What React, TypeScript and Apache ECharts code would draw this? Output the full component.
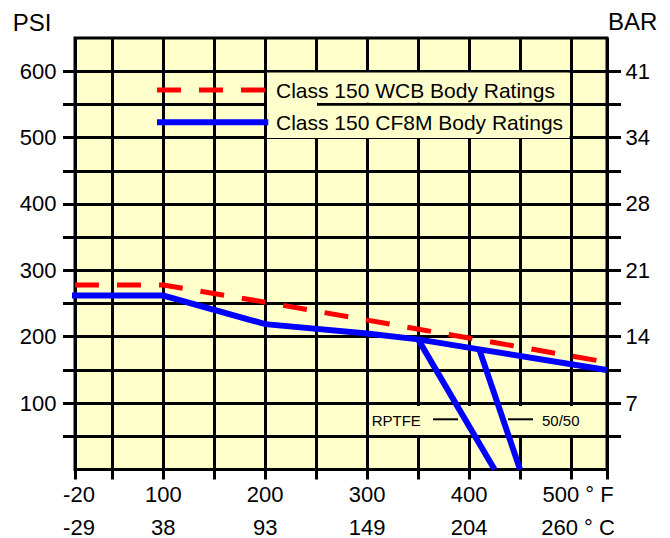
import React, { useEffect, useRef } from 'react';
import * as echarts from 'echarts';

// ---- axis extents / ticks ----
const X_MIN = 13.4; // left edge of the plot, labelled -20 °F (scale is compressed below 50 °F)
const X_MAX = 535.3; // right edge of the plot
const xGridValues = [X_MIN, 50, 100, 150, 200, 250, 300, 350, 400, 450, 500, X_MAX];
const xLabelValues = [X_MIN, 100, 200, 300, 400, 500];
const xLabelsF = ['-20', '100', '200', '300', '400', '500 ° F'];
const xLabelsC = ['-29', '38', '93', '149', '204', '260 ° C'];

const Y_MAX = 650;
const yGridValues = [50, 100, 150, 200, 250, 300, 350, 400, 450, 500, 550, 600];
const psiLabelValues = [100, 200, 300, 400, 500, 600];
const barLabels = ['7', '14', '21', '28', '34', '41'];

// ---- series data (°F, psi) ----
const wcbTemps = [-20, 100, 200, 300, 400, 500, 530];
const wcbPsi = [278, 278, 252, 225, 198, 171, 163];

const cf8mTemps = [-20, 100, 200, 300, 350, 410, 535];
const cf8mPsi = [262, 262, 219, 205, 196, 181, 150];

const rptfeTemps = [350, 425];
const rptfePsi = [196, 0];

const fiftyTemps = [410, 450];
const fiftyPsi = [181, 0];

const FONT = "'Liberation Sans', Arial, Helvetica, sans-serif";
const BG = '#FFFFCC';

const pairs = (xs: number[], ys: number[]) => xs.map((x, i) => [x, ys[i]]);

export default function App() {
  const ref = useRef<HTMLDivElement>(null);

  useEffect(() => {
    if (!ref.current) return;
    const chart = echarts.init(ref.current, undefined, { renderer: 'svg' });
    const lastX = xLabelValues.length - 1;

    const option: any = {
      animation: false,
      backgroundColor: '#ffffff',
      textStyle: { fontFamily: FONT },
      grid: {
        left: 75,
        top: 38,
        right: 63,
        bottom: 67,
        show: true,
        backgroundColor: BG,
        borderColor: '#000',
        borderWidth: 3,
      },
      xAxis: {
        type: 'value',
        min: X_MIN,
        max: X_MAX,
        axisLine: { show: false },
        axisTick: {
          show: true,
          length: 10,
          customValues: xGridValues,
          lineStyle: { color: '#000', width: 3 },
        },
        splitLine: { show: true, lineStyle: { color: '#000', width: 3 } },
        axisLabel: {
          customValues: xLabelValues,
          margin: 8,
          color: '#000',
          formatter: (value: number) => {
            const i = xLabelValues.findIndex((v) => Math.abs(v - value) < 1e-6);
            if (i < 0) return '';
            const s = i === 0 ? 'l' : i === lastX ? 'r' : 'n';
            return `{${s}|${xLabelsF[i]}}\n{${s}|${xLabelsC[i]}}`;
          },
          rich: {
            n: { fontSize: 22, lineHeight: 33, fontFamily: FONT, color: '#000' },
            l: { fontSize: 22, lineHeight: 33, fontFamily: FONT, color: '#000', padding: [0, 0, 0, 8] },
            r: { fontSize: 22, lineHeight: 33, fontFamily: FONT, color: '#000', padding: [0, 0, 0, 14] },
          },
        },
      },
      yAxis: [
        {
          type: 'value',
          position: 'left',
          min: 0,
          max: Y_MAX,
          name: 'PSI',
          nameLocation: 'end',
          nameGap: 16,
          nameTextStyle: {
            fontSize: 24,
            fontFamily: FONT,
            color: '#000',
            align: 'right',
            verticalAlign: 'middle',
            padding: [0, 23.5, 0, 0],
          },
          axisLine: { show: false },
          axisTick: {
            show: true,
            length: 12,
            customValues: yGridValues,
            lineStyle: { color: '#000', width: 3 },
          },
          splitLine: { show: true, lineStyle: { color: '#000', width: 3 } },
          axisLabel: {
            customValues: psiLabelValues,
            margin: 18.5,
            fontSize: 22,
            fontFamily: FONT,
            color: '#000',
          },
        },
        {
          type: 'value',
          position: 'right',
          min: 0,
          max: Y_MAX,
          name: 'BAR',
          nameLocation: 'end',
          nameGap: 17,
          nameTextStyle: {
            fontSize: 24,
            fontFamily: FONT,
            color: '#000',
            align: 'left',
            verticalAlign: 'middle',
            padding: [0, 0, 0, 1],
          },
          axisLine: { show: false },
          axisTick: {
            show: true,
            length: 14,
            customValues: yGridValues,
            lineStyle: { color: '#000', width: 3 },
          },
          splitLine: { show: false },
          axisLabel: {
            customValues: psiLabelValues,
            margin: 18.5,
            fontSize: 22,
            fontFamily: FONT,
            color: '#000',
            formatter: (v: number) => {
              const i = psiLabelValues.indexOf(v);
              return i >= 0 ? barLabels[i] : '';
            },
          },
        },
      ],
      series: [
        {
          name: 'Class 150 WCB Body Ratings',
          type: 'line',
          data: pairs(wcbTemps, wcbPsi),
          symbol: 'none',
          clip: true,
          z: 3,
          lineStyle: { color: '#FF0000', width: 5, type: [24, 18], dashOffset: 8, cap: 'butt' },
        },
        {
          name: 'Class 150 CF8M Body Ratings',
          type: 'line',
          data: pairs(cf8mTemps, cf8mPsi),
          symbol: 'none',
          clip: true,
          z: 3,
          lineStyle: { color: '#0000FF', width: 6, join: 'miter' },
        },
        {
          name: 'RPTFE',
          type: 'line',
          data: pairs(rptfeTemps, rptfePsi),
          symbol: 'none',
          clip: true,
          z: 3,
          lineStyle: { color: '#0000FF', width: 6 },
        },
        {
          name: '50/50',
          type: 'line',
          data: pairs(fiftyTemps, fiftyPsi),
          symbol: 'none',
          clip: true,
          z: 3,
          lineStyle: { color: '#0000FF', width: 6 },
        },
      ],
      graphic: [
        // legend text backgrounds
        { type: 'rect', z: 1, shape: { x: 267, y: 72.5, width: 302.5, height: 30.3 }, style: { fill: BG } },
        { type: 'rect', z: 1, shape: { x: 267, y: 105.8, width: 302.5, height: 32.2 }, style: { fill: BG } },
        { type: 'rect', z: 1, shape: { x: 267, y: 100, width: 50, height: 8 }, style: { fill: BG } },
        // legend swatches
        {
          type: 'line', z: 5,
          shape: { x1: 157, y1: 90, x2: 266, y2: 90 },
          style: { stroke: '#FF0000', lineWidth: 5, lineDash: [24, 18] },
        },
        {
          type: 'line', z: 5,
          shape: { x1: 157, y1: 122.3, x2: 268.3, y2: 122.3 },
          style: { stroke: '#0000FF', lineWidth: 6 },
        },
        {
          type: 'text', z: 5, x: 276, y: 90,
          style: { text: 'Class 150 WCB Body Ratings', font: `21px ${FONT}`, fill: '#000', verticalAlign: 'middle' },
        },
        {
          type: 'text', z: 5, x: 276, y: 122.5,
          style: { text: 'Class 150 CF8M Body Ratings', font: `21px ${FONT}`, fill: '#000', verticalAlign: 'middle' },
        },
        // seat annotations
        { type: 'rect', z: 1, shape: { x: 370, y: 406, width: 216, height: 29 }, style: { fill: BG } },
        {
          type: 'text', z: 5, x: 371.7, y: 420,
          style: { text: 'RPTFE', font: `15px ${FONT}`, fill: '#000', verticalAlign: 'middle' },
        },
        {
          type: 'line', z: 5,
          shape: { x1: 433, y1: 419.3, x2: 458, y2: 419.3 },
          style: { stroke: '#000', lineWidth: 2 },
        },
        {
          type: 'line', z: 5,
          shape: { x1: 508, y1: 419.3, x2: 533, y2: 419.3 },
          style: { stroke: '#000', lineWidth: 2 },
        },
        {
          type: 'text', z: 5, x: 542, y: 420,
          style: { text: '50/50', font: `15px ${FONT}`, fill: '#000', verticalAlign: 'middle' },
        },
      ],
    };

    chart.setOption(option);
    return () => chart.dispose();
  }, []);

  return (
    <div
      ref={ref}
      style={{ position: 'absolute', left: 0, top: 0, width: 670, height: 538 }}
    />
  );
}
